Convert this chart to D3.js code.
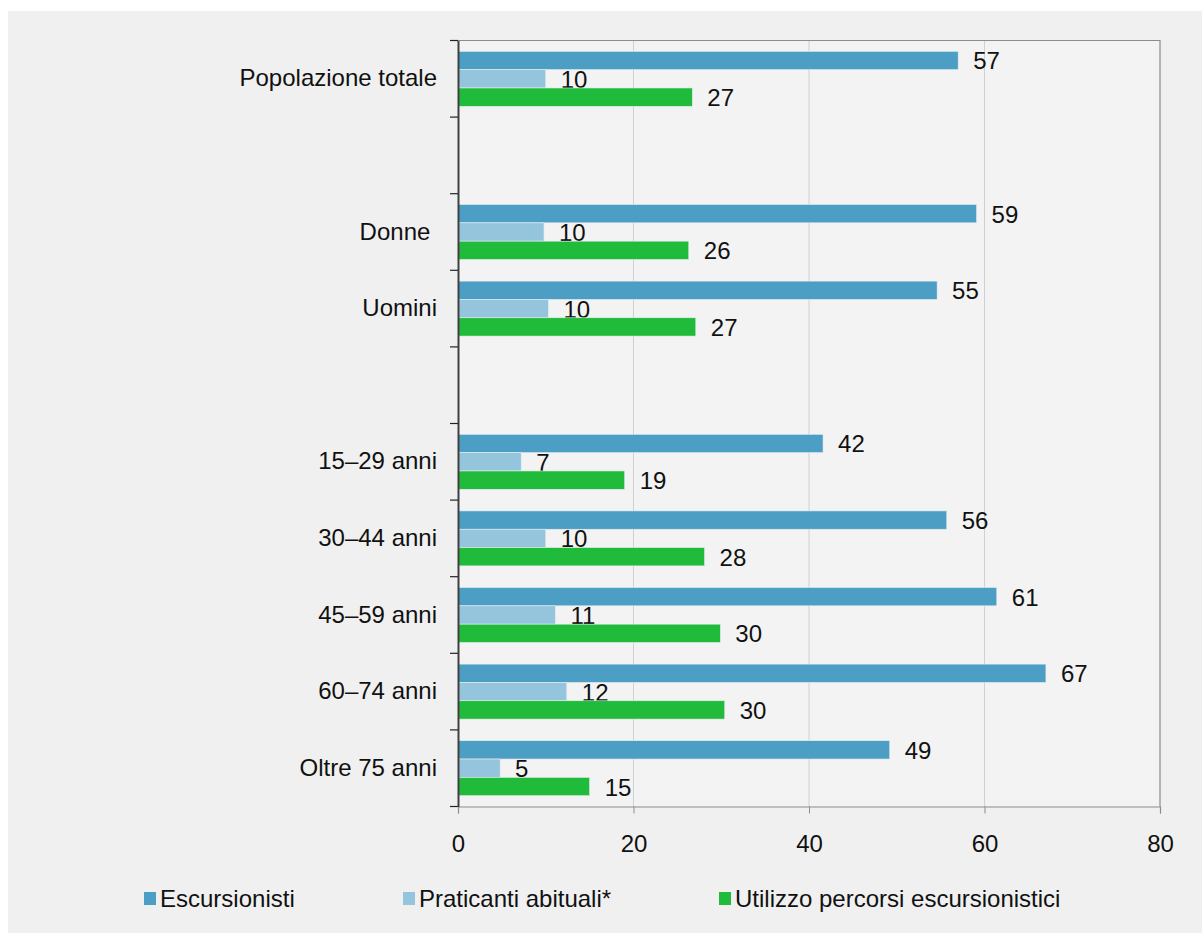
<!DOCTYPE html>
<html>
<head>
<meta charset="utf-8">
<title>Escursionisti</title>
<script src="https://cdn.jsdelivr.net/npm/d3@7"></script>
<style>
  body { margin: 0; background: #fff; font-family: "Liberation Sans", Arial, sans-serif; }
  svg text { fill: #111; }
</style>
</head>
<body>
<div id="chart"></div>
<script>
// categories (gap entries are spacer rows)
var categories = ["Popolazione totale", "gap1", "Donne\u00a0", "Uomini", "gap2",
                  "15–29 anni", "30–44 anni", "45–59 anni", "60–74 anni", "Oltre 75 anni"];
var seriesNames = ["Escursionisti", "Praticanti abituali*", "Utilizzo percorsi escursionistici"];
var seriesColors = ["#4d9ec4", "#95c5dc", "#21bb3b"];

var escursionisti = [57.0, null, 59.1, 54.6, null, 41.6, 55.7, 61.4, 67.0, 49.2];
var praticanti    = [10.0, null, 9.8, 10.3, null, 7.2, 10.0, 11.1, 12.4, 4.8];
var utilizzo      = [26.7, null, 26.3, 27.1, null, 19.0, 28.1, 29.9, 30.4, 15.0];
var xTicks = [0, 20, 40, 60, 80];

var W = 1202, H = 933;
var margin = {left: 458, right: 42, top: 40.5, bottom: 126.5};
var FS = 24;

var svg = d3.select("#chart").append("svg")
    .attr("width", W).attr("height", H);

svg.append("rect").attr("x", 8).attr("y", 11)
    .attr("width", W - 8).attr("height", H - 11).attr("fill", "#f0f0f0");

var x = d3.scaleLinear().domain([0, 80]).range([margin.left, W - margin.right]);
var y = d3.scaleBand().domain(categories).range([margin.top, H - margin.bottom]).padding(0);
var inner = d3.scaleBand().domain([0, 1, 2]).range([0, y.bandwidth()])
    .paddingInner(0).paddingOuter(0.59);

// plot background
svg.append("rect")
    .attr("x", x(0)).attr("y", margin.top)
    .attr("width", x(80) - x(0)).attr("height", H - margin.bottom - margin.top)
    .attr("fill", "#f3f3f3");

// gridlines
svg.append("g").selectAll("line").data(xTicks.slice(1, -1)).enter().append("line")
    .attr("x1", function(d) { return x(d); }).attr("x2", function(d) { return x(d); })
    .attr("y1", margin.top).attr("y2", H - margin.bottom)
    .attr("stroke", "#d0d0d0").attr("stroke-width", 1);

// frame top + right
svg.append("path")
    .attr("d", "M" + x(0) + "," + margin.top + "H" + x(80) + "V" + (H - margin.bottom))
    .attr("fill", "none").attr("stroke", "#8c8c8c").attr("stroke-width", 1.2);

var data = [escursionisti, praticanti, utilizzo];

data.forEach(function(vals, s) {
    var rows = categories.map(function(c, i) { return {cat: c, v: vals[i]}; })
        .filter(function(d) { return d.v !== null; });

    svg.append("g").selectAll("rect").data(rows).enter().append("rect")
        .attr("x", x(0))
        .attr("y", function(d) { return y(d.cat) + inner(s); })
        .attr("width", function(d) { return x(d.v) - x(0); })
        .attr("height", inner.bandwidth())
        .attr("fill", seriesColors[s])
        .attr("stroke", "#e4eef2").attr("stroke-width", 0.6);

    svg.append("g").selectAll("text").data(rows).enter().append("text")
        .attr("x", function(d) { return x(d.v) + 15; })
        .attr("y", function(d) { return y(d.cat) + inner(s) + inner.bandwidth() / 2 + 9; })
        .attr("font-size", FS)
        .text(function(d) { return Math.round(d.v); });
});

// x axis
var xAxis = svg.append("g")
    .attr("transform", "translate(0," + (H - margin.bottom) + ")")
    .call(d3.axisBottom(x).tickValues(xTicks).tickSize(7).tickPadding(21));
xAxis.select(".domain").attr("stroke", "#8c8c8c").attr("stroke-width", 1.2);
xAxis.selectAll(".tick line").attr("stroke", "#8c8c8c");
xAxis.selectAll("text").attr("font-size", FS)
    .attr("font-family", "Liberation Sans, Arial, sans-serif").attr("fill", "#111");

// y axis
var yAxis = svg.append("g")
    .attr("transform", "translate(" + x(0) + ",0)")
    .call(d3.axisLeft(y).tickSize(0).tickPadding(21)
        .tickFormat(function(d) { return d.indexOf("gap") === 0 ? "" : d; }));
yAxis.select(".domain").attr("stroke", "#404040").attr("stroke-width", 2);
yAxis.selectAll("text").attr("font-size", FS)
    .attr("font-family", "Liberation Sans, Arial, sans-serif").attr("fill", "#111");

// y ticks at band boundaries
var bounds = categories.map(function(c) { return y(c); }).concat([H - margin.bottom]);
svg.append("g").selectAll("line").data(bounds).enter().append("line")
    .attr("x1", x(0) - 8).attr("x2", x(0))
    .attr("y1", function(d) { return d; }).attr("y2", function(d) { return d; })
    .attr("stroke", "#222").attr("stroke-width", 1.2);

// legend
var legendX = [144, 403, 719];
var legend = svg.append("g").selectAll("g").data(seriesNames).enter().append("g")
    .attr("transform", function(d, i) { return "translate(" + legendX[i] + ",892)"; });
legend.append("rect").attr("width", 12).attr("height", 13)
    .attr("fill", function(d, i) { return seriesColors[i]; });
legend.append("text").attr("x", 16).attr("y", 15).attr("font-size", FS)
    .text(function(d) { return d; });
</script>
</body>
</html>
